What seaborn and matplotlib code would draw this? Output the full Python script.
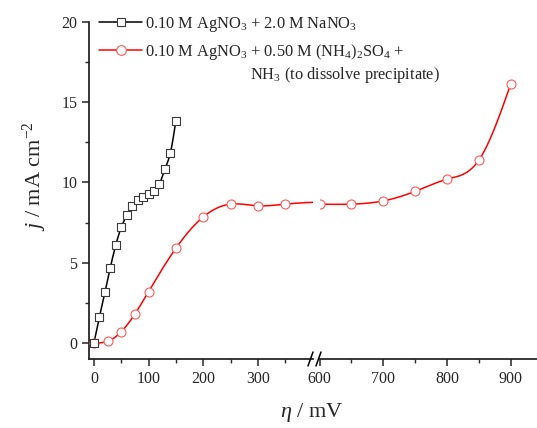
import numpy as np
import pandas as pd
import matplotlib
matplotlib.use("Agg")
import matplotlib.pyplot as plt
import seaborn as sns
from matplotlib.lines import Line2D
from matplotlib.ticker import FixedLocator

# ---------------- data ----------------
eta_nano3 = [0, 10, 20, 30, 40, 50, 60, 70, 80, 90, 100, 110, 120, 130, 140, 150]
j_nano3 = [0.0, 1.6, 3.15, 4.7, 6.1, 7.2, 7.95, 8.55, 8.9, 9.1, 9.3, 9.45, 9.9, 10.85, 11.85, 13.85]

eta_nh3 = [0, 25, 50, 75, 100, 150, 200, 250, 300, 350, 600, 650, 700, 750, 800, 850, 900]
j_nh3 = [0.0, 0.1, 0.7, 1.8, 3.2, 5.9, 7.85, 8.65, 8.55, 8.65, 8.65, 8.65, 8.85, 9.45, 10.2, 11.4, 16.15]

label_nano3 = r"0.10 M AgNO$_3$ + 2.0 M NaNO$_3$"
label_nh3 = r"0.10 M AgNO$_3$ + 0.50 M (NH$_4$)$_2$SO$_4$ +"
label_nh3_2 = r"NH$_3$ (to dissolve precipitate)"

left_major = [0, 100, 200, 300]
left_minor = [50, 150, 250, 350]
right_major = [600, 700, 800, 900]
right_minor = [650, 750, 850]
y_major = [0, 5, 10, 15, 20]
y_minor = [2.5, 7.5, 12.5, 17.5]


def natural_spline(x, y, n=400):
    x = np.asarray(x, float)
    y = np.asarray(y, float)
    m = len(x)
    h = np.diff(x)
    A = np.zeros((m, m))
    b = np.zeros(m)
    A[0, 0] = 1
    A[-1, -1] = 1
    for i in range(1, m - 1):
        A[i, i - 1] = h[i - 1]
        A[i, i] = 2 * (h[i - 1] + h[i])
        A[i, i + 1] = h[i]
        b[i] = 6 * ((y[i + 1] - y[i]) / h[i] - (y[i] - y[i - 1]) / h[i - 1])
    M = np.linalg.solve(A, b)
    xs = np.linspace(x[0], x[-1], n)
    idx = np.clip(np.searchsorted(x, xs) - 1, 0, m - 2)
    x0, x1 = x[idx], x[idx + 1]
    hh = x1 - x0
    t0 = x1 - xs
    t1 = xs - x0
    ys = (M[idx] * t0 ** 3 / (6 * hh) + M[idx + 1] * t1 ** 3 / (6 * hh)
          + (y[idx] / hh - M[idx] * hh / 6) * t0
          + (y[idx + 1] / hh - M[idx + 1] * hh / 6) * t1)
    return xs, ys


sns.set_style("ticks")
plt.rcParams["font.family"] = ["Liberation Serif", "DejaVu Serif"]
plt.rcParams["mathtext.fontset"] = "custom"
plt.rcParams["mathtext.rm"] = "Liberation Serif"
plt.rcParams["mathtext.it"] = "Liberation Serif:italic"
plt.rcParams["mathtext.bf"] = "Liberation Serif:bold"

W, H = 537, 428
fig = plt.figure(figsize=(W / 100, H / 100), dpi=100)
top_px, bot_px = 22, 359
bottom = (H - bot_px) / H
height = (bot_px - top_px) / H
axL = fig.add_axes([89 / W, bottom, (313 - 89) / W, height])
axR = fig.add_axes([319.5 / W, bottom, (537 - 319.5) / W, height])

black_line = "#000000"
black_edge = "#3a3a3a"
red_line = "#ff0000"
red_edge = "#ff5a5a"

xs_b, ys_b = natural_spline(eta_nano3, j_nano3)
xs_r, ys_r = natural_spline(eta_nh3, j_nh3, n=900)
df_b = pd.DataFrame({"eta": eta_nano3, "j": j_nano3})
df_r = pd.DataFrame({"eta": eta_nh3, "j": j_nh3})

for ax in (axL, axR):
    sns.lineplot(x=xs_r, y=ys_r, ax=ax, color=red_line, lw=1.1, sort=False, estimator=None)
    sns.scatterplot(data=df_r, x="eta", y="j", ax=ax, marker="o", s=42,
                    facecolor="white", edgecolor=red_edge, linewidth=0.8, zorder=3)
    sns.lineplot(x=xs_b, y=ys_b, ax=ax, color=black_line, lw=1.1, sort=False, estimator=None)
    sns.scatterplot(data=df_b, x="eta", y="j", ax=ax, marker="s", s=34,
                    facecolor="white", edgecolor=black_edge, linewidth=0.8, zorder=4)
    ax.set_ylim(-1, 20)
    ax.set_xlabel("")
    ax.set_ylabel("")
    ax.spines["top"].set_visible(False)
    ax.spines["right"].set_visible(False)
    for s in ax.spines.values():
        s.set_linewidth(1.3)
    ax.tick_params(which="major", length=5, width=1.1, labelsize=11.5, direction="out")
    ax.tick_params(which="minor", length=3, width=1.0, direction="out")
    ax.patch.set_visible(False)

axL.set_xlim(-9, 401)
axL.xaxis.set_major_locator(FixedLocator(left_major))
axL.xaxis.set_minor_locator(FixedLocator(left_minor))
axL.yaxis.set_major_locator(FixedLocator(y_major))
axL.yaxis.set_minor_locator(FixedLocator(y_minor))

axR.set_xlim(600, 941)
axR.xaxis.set_major_locator(FixedLocator(right_major))
axR.xaxis.set_minor_locator(FixedLocator(right_minor))
axR.spines["left"].set_visible(False)
axR.set_yticks([])

# break marks
for x0 in (308, 316):
    fig.add_artist(Line2D([x0 / W, (x0 + 5) / W], [1 - 366 / H, 1 - 352 / H],
                          color="black", lw=1.1))

# legend
handles = [
    Line2D([], [], color=black_line, lw=1.1, marker="s", markersize=6,
           markerfacecolor="white", markeredgecolor=black_edge, markeredgewidth=0.8),
    Line2D([], [], color=red_line, lw=1.1, marker="o", markersize=7,
           markerfacecolor="white", markeredgecolor=red_edge, markeredgewidth=0.8),
]
fig.legend(handles, [label_nano3, label_nh3], loc="upper left",
           bbox_to_anchor=(91 / W, 1 - 7 / H), frameon=False, fontsize=11.8,
           handlelength=2.6, handletextpad=0.2, labelspacing=0.45, borderpad=0)
fig.text(250 / W, 1 - 75 / H, label_nh3_2, fontsize=11.8, ha="left", va="center")

fig.text(312 / W, 1 - 413 / H, r"$\eta$ / mV", fontsize=16, ha="center", va="center")
fig.text(35 / W, 1 - 176 / H, r"$j$ / mA cm$^{-2}$", fontsize=16, ha="center",
         va="center", rotation=90)

fig.savefig("out.png", dpi=100)
